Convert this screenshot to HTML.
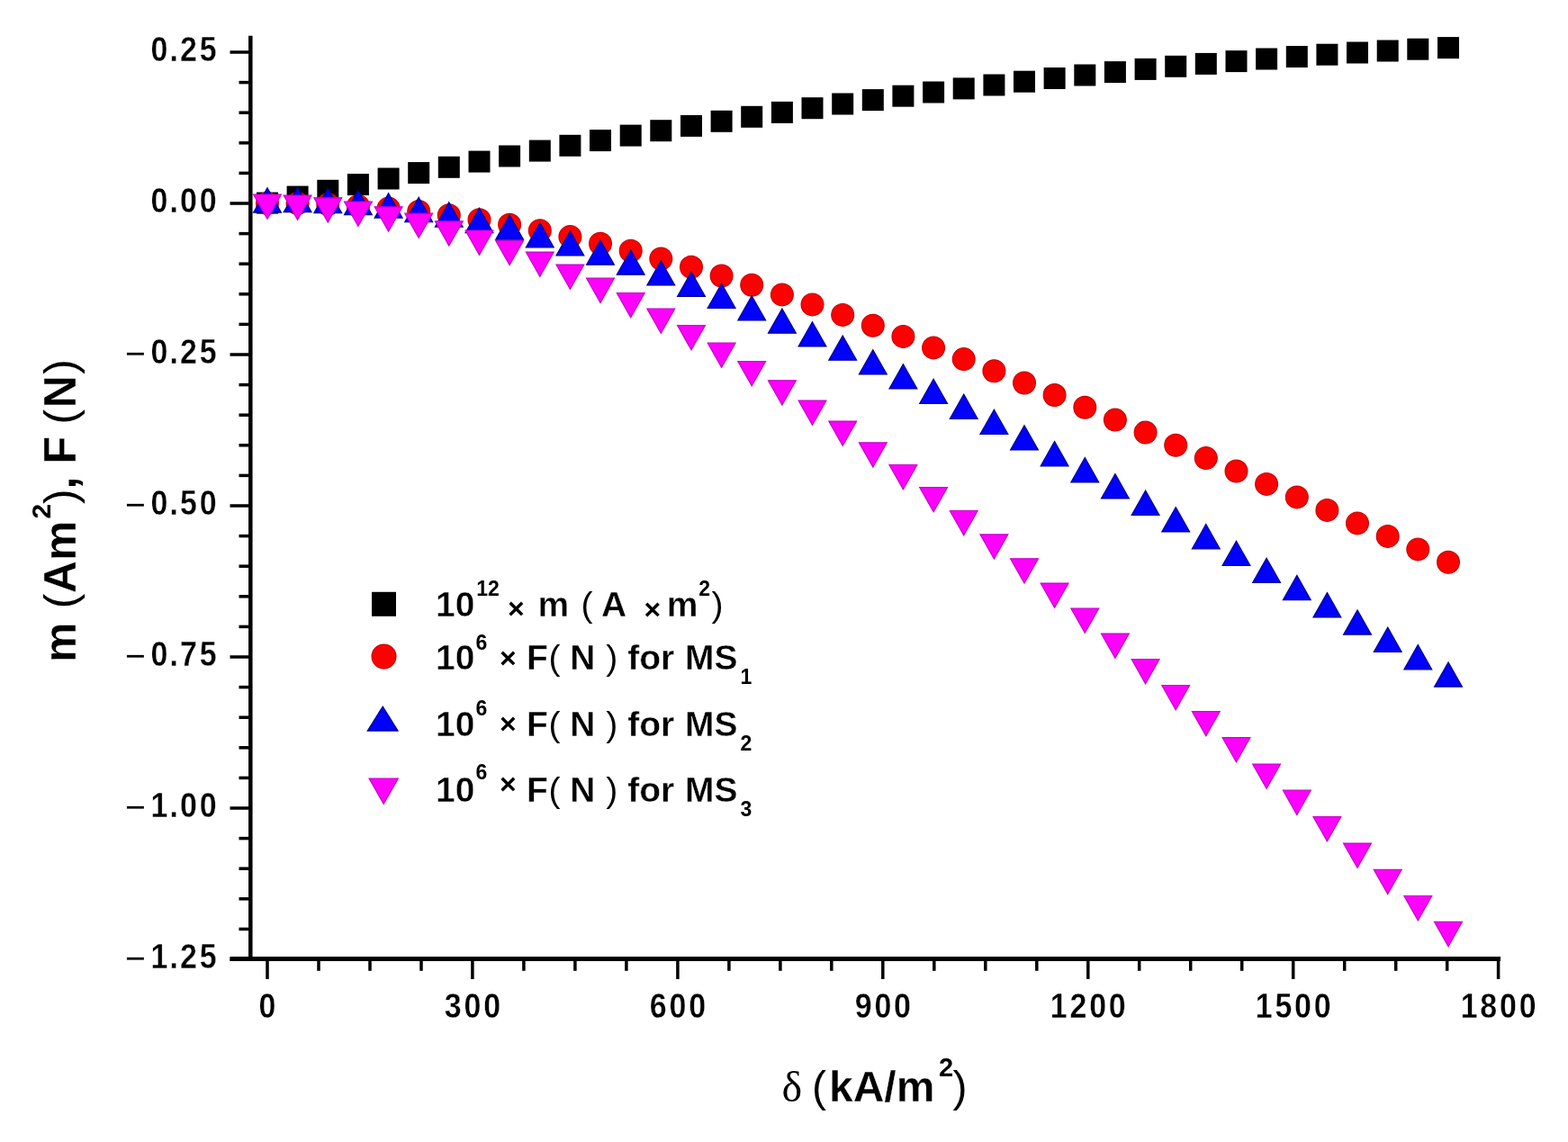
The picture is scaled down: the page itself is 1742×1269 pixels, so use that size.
<!DOCTYPE html>
<html><head><meta charset="utf-8"><style>html,body{margin:0;padding:0;background:#fff;overflow:hidden;}svg{display:block;}.t1{stroke:#fff;stroke-width:0.35px;}.t2{stroke:#fff;stroke-width:0.4px;}.t3{stroke:#fff;stroke-width:0.3px;}</style></head>
<body><svg width="1742" height="1269" viewBox="0 0 1742 1269">
<rect width="1742" height="1269" fill="#fff"/>
<g stroke="#000" fill="none">
<line x1="278.3" y1="39.8" x2="278.3" y2="1067.6" stroke-width="4.5"/>
<line x1="255.5" y1="1065.6" x2="1667" y2="1065.6" stroke-width="5"/>
</g>
<g stroke="#000" stroke-width="3.5">
<line x1="255.5" y1="58.0" x2="278.3" y2="58.0"/>
<line x1="265.5" y1="91.6" x2="278.3" y2="91.6"/>
<line x1="265.5" y1="125.2" x2="278.3" y2="125.2"/>
<line x1="265.5" y1="158.8" x2="278.3" y2="158.8"/>
<line x1="265.5" y1="192.4" x2="278.3" y2="192.4"/>
<line x1="255.5" y1="226.0" x2="278.3" y2="226.0"/>
<line x1="265.5" y1="259.6" x2="278.3" y2="259.6"/>
<line x1="265.5" y1="293.2" x2="278.3" y2="293.2"/>
<line x1="265.5" y1="326.8" x2="278.3" y2="326.8"/>
<line x1="265.5" y1="360.4" x2="278.3" y2="360.4"/>
<line x1="255.5" y1="394.0" x2="278.3" y2="394.0"/>
<line x1="265.5" y1="427.6" x2="278.3" y2="427.6"/>
<line x1="265.5" y1="461.2" x2="278.3" y2="461.2"/>
<line x1="265.5" y1="494.8" x2="278.3" y2="494.8"/>
<line x1="265.5" y1="528.4" x2="278.3" y2="528.4"/>
<line x1="255.5" y1="562.0" x2="278.3" y2="562.0"/>
<line x1="265.5" y1="595.6" x2="278.3" y2="595.6"/>
<line x1="265.5" y1="629.2" x2="278.3" y2="629.2"/>
<line x1="265.5" y1="662.8" x2="278.3" y2="662.8"/>
<line x1="265.5" y1="696.4" x2="278.3" y2="696.4"/>
<line x1="255.5" y1="730.0" x2="278.3" y2="730.0"/>
<line x1="265.5" y1="763.6" x2="278.3" y2="763.6"/>
<line x1="265.5" y1="797.2" x2="278.3" y2="797.2"/>
<line x1="265.5" y1="830.8" x2="278.3" y2="830.8"/>
<line x1="265.5" y1="864.4" x2="278.3" y2="864.4"/>
<line x1="255.5" y1="898.0" x2="278.3" y2="898.0"/>
<line x1="265.5" y1="931.6" x2="278.3" y2="931.6"/>
<line x1="265.5" y1="965.2" x2="278.3" y2="965.2"/>
<line x1="265.5" y1="998.8" x2="278.3" y2="998.8"/>
<line x1="265.5" y1="1032.4" x2="278.3" y2="1032.4"/>
<line x1="255.5" y1="1066.0" x2="278.3" y2="1066.0"/>
<line x1="297.0" y1="1065.6" x2="297.0" y2="1088"/>
<line x1="354.0" y1="1065.6" x2="354.0" y2="1078.8"/>
<line x1="411.0" y1="1065.6" x2="411.0" y2="1078.8"/>
<line x1="468.0" y1="1065.6" x2="468.0" y2="1078.8"/>
<line x1="524.9" y1="1065.6" x2="524.9" y2="1088"/>
<line x1="581.9" y1="1065.6" x2="581.9" y2="1078.8"/>
<line x1="638.9" y1="1065.6" x2="638.9" y2="1078.8"/>
<line x1="695.9" y1="1065.6" x2="695.9" y2="1078.8"/>
<line x1="752.9" y1="1065.6" x2="752.9" y2="1088"/>
<line x1="809.9" y1="1065.6" x2="809.9" y2="1078.8"/>
<line x1="866.9" y1="1065.6" x2="866.9" y2="1078.8"/>
<line x1="923.8" y1="1065.6" x2="923.8" y2="1078.8"/>
<line x1="980.8" y1="1065.6" x2="980.8" y2="1088"/>
<line x1="1037.8" y1="1065.6" x2="1037.8" y2="1078.8"/>
<line x1="1094.8" y1="1065.6" x2="1094.8" y2="1078.8"/>
<line x1="1151.8" y1="1065.6" x2="1151.8" y2="1078.8"/>
<line x1="1208.8" y1="1065.6" x2="1208.8" y2="1088"/>
<line x1="1265.7" y1="1065.6" x2="1265.7" y2="1078.8"/>
<line x1="1322.7" y1="1065.6" x2="1322.7" y2="1078.8"/>
<line x1="1379.7" y1="1065.6" x2="1379.7" y2="1078.8"/>
<line x1="1436.7" y1="1065.6" x2="1436.7" y2="1088"/>
<line x1="1493.7" y1="1065.6" x2="1493.7" y2="1078.8"/>
<line x1="1550.7" y1="1065.6" x2="1550.7" y2="1078.8"/>
<line x1="1607.7" y1="1065.6" x2="1607.7" y2="1078.8"/>
<line x1="1664.6" y1="1065.6" x2="1664.6" y2="1088"/>
</g>
<text class="t1" x="0" y="0" text-anchor="middle" transform="translate(176.95,68.0) scale(0.87,1)" font-family="Liberation Sans, Arial, sans-serif" font-weight="bold" font-size="39">0</text><text class="t1" x="0" y="0" text-anchor="middle" transform="translate(193.21,68.0) scale(0.87,1)" font-family="Liberation Sans, Arial, sans-serif" font-weight="bold" font-size="39">.</text><text class="t1" x="0" y="0" text-anchor="middle" transform="translate(209.47,68.0) scale(0.87,1)" font-family="Liberation Sans, Arial, sans-serif" font-weight="bold" font-size="39">2</text><text class="t1" x="0" y="0" text-anchor="middle" transform="translate(231.16,68.0) scale(0.87,1)" font-family="Liberation Sans, Arial, sans-serif" font-weight="bold" font-size="39">5</text>
<text class="t1" x="0" y="0" text-anchor="middle" transform="translate(176.95,236.0) scale(0.87,1)" font-family="Liberation Sans, Arial, sans-serif" font-weight="bold" font-size="39">0</text><text class="t1" x="0" y="0" text-anchor="middle" transform="translate(193.21,236.0) scale(0.87,1)" font-family="Liberation Sans, Arial, sans-serif" font-weight="bold" font-size="39">.</text><text class="t1" x="0" y="0" text-anchor="middle" transform="translate(209.47,236.0) scale(0.87,1)" font-family="Liberation Sans, Arial, sans-serif" font-weight="bold" font-size="39">0</text><text class="t1" x="0" y="0" text-anchor="middle" transform="translate(231.16,236.0) scale(0.87,1)" font-family="Liberation Sans, Arial, sans-serif" font-weight="bold" font-size="39">0</text>
<text class="t1" x="0" y="0" text-anchor="middle" transform="translate(176.95,404.0) scale(0.87,1)" font-family="Liberation Sans, Arial, sans-serif" font-weight="bold" font-size="39">0</text><text class="t1" x="0" y="0" text-anchor="middle" transform="translate(193.21,404.0) scale(0.87,1)" font-family="Liberation Sans, Arial, sans-serif" font-weight="bold" font-size="39">.</text><text class="t1" x="0" y="0" text-anchor="middle" transform="translate(209.47,404.0) scale(0.87,1)" font-family="Liberation Sans, Arial, sans-serif" font-weight="bold" font-size="39">2</text><text class="t1" x="0" y="0" text-anchor="middle" transform="translate(231.16,404.0) scale(0.87,1)" font-family="Liberation Sans, Arial, sans-serif" font-weight="bold" font-size="39">5</text>
<text x="139.0" y="406.0" font-family="Liberation Sans, Arial, sans-serif" font-weight="normal" font-size="39">−</text>
<text class="t1" x="0" y="0" text-anchor="middle" transform="translate(176.95,572.0) scale(0.87,1)" font-family="Liberation Sans, Arial, sans-serif" font-weight="bold" font-size="39">0</text><text class="t1" x="0" y="0" text-anchor="middle" transform="translate(193.21,572.0) scale(0.87,1)" font-family="Liberation Sans, Arial, sans-serif" font-weight="bold" font-size="39">.</text><text class="t1" x="0" y="0" text-anchor="middle" transform="translate(209.47,572.0) scale(0.87,1)" font-family="Liberation Sans, Arial, sans-serif" font-weight="bold" font-size="39">5</text><text class="t1" x="0" y="0" text-anchor="middle" transform="translate(231.16,572.0) scale(0.87,1)" font-family="Liberation Sans, Arial, sans-serif" font-weight="bold" font-size="39">0</text>
<text x="139.0" y="574.0" font-family="Liberation Sans, Arial, sans-serif" font-weight="normal" font-size="39">−</text>
<text class="t1" x="0" y="0" text-anchor="middle" transform="translate(176.95,740.0) scale(0.87,1)" font-family="Liberation Sans, Arial, sans-serif" font-weight="bold" font-size="39">0</text><text class="t1" x="0" y="0" text-anchor="middle" transform="translate(193.21,740.0) scale(0.87,1)" font-family="Liberation Sans, Arial, sans-serif" font-weight="bold" font-size="39">.</text><text class="t1" x="0" y="0" text-anchor="middle" transform="translate(209.47,740.0) scale(0.87,1)" font-family="Liberation Sans, Arial, sans-serif" font-weight="bold" font-size="39">7</text><text class="t1" x="0" y="0" text-anchor="middle" transform="translate(231.16,740.0) scale(0.87,1)" font-family="Liberation Sans, Arial, sans-serif" font-weight="bold" font-size="39">5</text>
<text x="139.0" y="742.0" font-family="Liberation Sans, Arial, sans-serif" font-weight="normal" font-size="39">−</text>
<text class="t1" x="0" y="0" text-anchor="middle" transform="translate(176.95,908.0) scale(0.87,1)" font-family="Liberation Sans, Arial, sans-serif" font-weight="bold" font-size="39">1</text><text class="t1" x="0" y="0" text-anchor="middle" transform="translate(193.21,908.0) scale(0.87,1)" font-family="Liberation Sans, Arial, sans-serif" font-weight="bold" font-size="39">.</text><text class="t1" x="0" y="0" text-anchor="middle" transform="translate(209.47,908.0) scale(0.87,1)" font-family="Liberation Sans, Arial, sans-serif" font-weight="bold" font-size="39">0</text><text class="t1" x="0" y="0" text-anchor="middle" transform="translate(231.16,908.0) scale(0.87,1)" font-family="Liberation Sans, Arial, sans-serif" font-weight="bold" font-size="39">0</text>
<text x="139.0" y="910.0" font-family="Liberation Sans, Arial, sans-serif" font-weight="normal" font-size="39">−</text>
<text class="t1" x="0" y="0" text-anchor="middle" transform="translate(176.95,1076.0) scale(0.87,1)" font-family="Liberation Sans, Arial, sans-serif" font-weight="bold" font-size="39">1</text><text class="t1" x="0" y="0" text-anchor="middle" transform="translate(193.21,1076.0) scale(0.87,1)" font-family="Liberation Sans, Arial, sans-serif" font-weight="bold" font-size="39">.</text><text class="t1" x="0" y="0" text-anchor="middle" transform="translate(209.47,1076.0) scale(0.87,1)" font-family="Liberation Sans, Arial, sans-serif" font-weight="bold" font-size="39">2</text><text class="t1" x="0" y="0" text-anchor="middle" transform="translate(231.16,1076.0) scale(0.87,1)" font-family="Liberation Sans, Arial, sans-serif" font-weight="bold" font-size="39">5</text>
<text x="139.0" y="1078.0" font-family="Liberation Sans, Arial, sans-serif" font-weight="normal" font-size="39">−</text>
<text class="t1" x="0" y="0" text-anchor="middle" transform="translate(297.00,1131.0) scale(0.87,1)" font-family="Liberation Sans, Arial, sans-serif" font-weight="bold" font-size="39">0</text>
<text class="t1" x="0" y="0" text-anchor="middle" transform="translate(503.25,1131.0) scale(0.87,1)" font-family="Liberation Sans, Arial, sans-serif" font-weight="bold" font-size="39">3</text><text class="t1" x="0" y="0" text-anchor="middle" transform="translate(524.94,1131.0) scale(0.87,1)" font-family="Liberation Sans, Arial, sans-serif" font-weight="bold" font-size="39">0</text><text class="t1" x="0" y="0" text-anchor="middle" transform="translate(546.63,1131.0) scale(0.87,1)" font-family="Liberation Sans, Arial, sans-serif" font-weight="bold" font-size="39">0</text>
<text class="t1" x="0" y="0" text-anchor="middle" transform="translate(731.19,1131.0) scale(0.87,1)" font-family="Liberation Sans, Arial, sans-serif" font-weight="bold" font-size="39">6</text><text class="t1" x="0" y="0" text-anchor="middle" transform="translate(752.88,1131.0) scale(0.87,1)" font-family="Liberation Sans, Arial, sans-serif" font-weight="bold" font-size="39">0</text><text class="t1" x="0" y="0" text-anchor="middle" transform="translate(774.57,1131.0) scale(0.87,1)" font-family="Liberation Sans, Arial, sans-serif" font-weight="bold" font-size="39">0</text>
<text class="t1" x="0" y="0" text-anchor="middle" transform="translate(959.13,1131.0) scale(0.87,1)" font-family="Liberation Sans, Arial, sans-serif" font-weight="bold" font-size="39">9</text><text class="t1" x="0" y="0" text-anchor="middle" transform="translate(980.82,1131.0) scale(0.87,1)" font-family="Liberation Sans, Arial, sans-serif" font-weight="bold" font-size="39">0</text><text class="t1" x="0" y="0" text-anchor="middle" transform="translate(1002.51,1131.0) scale(0.87,1)" font-family="Liberation Sans, Arial, sans-serif" font-weight="bold" font-size="39">0</text>
<text class="t1" x="0" y="0" text-anchor="middle" transform="translate(1176.23,1131.0) scale(0.87,1)" font-family="Liberation Sans, Arial, sans-serif" font-weight="bold" font-size="39">1</text><text class="t1" x="0" y="0" text-anchor="middle" transform="translate(1197.92,1131.0) scale(0.87,1)" font-family="Liberation Sans, Arial, sans-serif" font-weight="bold" font-size="39">2</text><text class="t1" x="0" y="0" text-anchor="middle" transform="translate(1219.60,1131.0) scale(0.87,1)" font-family="Liberation Sans, Arial, sans-serif" font-weight="bold" font-size="39">0</text><text class="t1" x="0" y="0" text-anchor="middle" transform="translate(1241.29,1131.0) scale(0.87,1)" font-family="Liberation Sans, Arial, sans-serif" font-weight="bold" font-size="39">0</text>
<text class="t1" x="0" y="0" text-anchor="middle" transform="translate(1404.17,1131.0) scale(0.87,1)" font-family="Liberation Sans, Arial, sans-serif" font-weight="bold" font-size="39">1</text><text class="t1" x="0" y="0" text-anchor="middle" transform="translate(1425.86,1131.0) scale(0.87,1)" font-family="Liberation Sans, Arial, sans-serif" font-weight="bold" font-size="39">5</text><text class="t1" x="0" y="0" text-anchor="middle" transform="translate(1447.54,1131.0) scale(0.87,1)" font-family="Liberation Sans, Arial, sans-serif" font-weight="bold" font-size="39">0</text><text class="t1" x="0" y="0" text-anchor="middle" transform="translate(1469.23,1131.0) scale(0.87,1)" font-family="Liberation Sans, Arial, sans-serif" font-weight="bold" font-size="39">0</text>
<text class="t1" x="0" y="0" text-anchor="middle" transform="translate(1632.11,1131.0) scale(0.87,1)" font-family="Liberation Sans, Arial, sans-serif" font-weight="bold" font-size="39">1</text><text class="t1" x="0" y="0" text-anchor="middle" transform="translate(1653.80,1131.0) scale(0.87,1)" font-family="Liberation Sans, Arial, sans-serif" font-weight="bold" font-size="39">8</text><text class="t1" x="0" y="0" text-anchor="middle" transform="translate(1675.48,1131.0) scale(0.87,1)" font-family="Liberation Sans, Arial, sans-serif" font-weight="bold" font-size="39">0</text><text class="t1" x="0" y="0" text-anchor="middle" transform="translate(1697.17,1131.0) scale(0.87,1)" font-family="Liberation Sans, Arial, sans-serif" font-weight="bold" font-size="39">0</text>
<text x="868.5" y="1223.5" font-family="Liberation Serif, Times New Roman, serif" font-weight="normal" font-size="48">δ</text>
<text x="902.0" y="1223.5" font-family="Liberation Sans, Arial, sans-serif" font-weight="normal" font-size="48">(</text>
<text class="t3" x="921.0" y="1223.5" font-family="Liberation Sans, Arial, sans-serif" font-weight="bold" font-size="48">kA/m</text>
<text x="1043.0" y="1196.0" font-family="Liberation Sans, Arial, sans-serif" font-weight="bold" font-size="29">2</text>
<text x="1058.5" y="1223.5" font-family="Liberation Sans, Arial, sans-serif" font-weight="normal" font-size="48">)</text>
<g transform="translate(83.5,0) rotate(-90)">
<text class="t3" x="-736.1" y="0" font-family="Liberation Sans, Arial, sans-serif" font-weight="bold" font-size="50">m</text>
<text x="-676.2" y="0" font-family="Liberation Sans, Arial, sans-serif" font-weight="normal" font-size="50">(</text>
<text class="t3" x="-659.2" y="0" font-family="Liberation Sans, Arial, sans-serif" font-weight="bold" font-size="50">Am</text>
<text x="-576.5" y="-27.5" font-family="Liberation Sans, Arial, sans-serif" font-weight="bold" font-size="30">2</text>
<text x="-559.9" y="0" font-family="Liberation Sans, Arial, sans-serif" font-weight="normal" font-size="50">)</text>
<text x="-543.5" y="0" font-family="Liberation Sans, Arial, sans-serif" font-weight="bold" font-size="50">,</text>
<text class="t3" x="-515.6" y="0" font-family="Liberation Sans, Arial, sans-serif" font-weight="bold" font-size="50">F</text>
<text x="-471.6" y="0" font-family="Liberation Sans, Arial, sans-serif" font-weight="normal" font-size="50">(</text>
<text class="t3" x="-453.2" y="0" font-family="Liberation Sans, Arial, sans-serif" font-weight="bold" font-size="50">N</text>
<text x="-415.8" y="0" font-family="Liberation Sans, Arial, sans-serif" font-weight="normal" font-size="50">)</text>
</g>
<g>
<rect x="285.0" y="213.6" width="24" height="24" fill="#000"/>
<rect x="318.6" y="206.6" width="24" height="24" fill="#000"/>
<rect x="352.3" y="199.8" width="24" height="24" fill="#000"/>
<rect x="385.9" y="193.1" width="24" height="24" fill="#000"/>
<rect x="419.6" y="186.5" width="24" height="24" fill="#000"/>
<rect x="453.2" y="180.1" width="24" height="24" fill="#000"/>
<rect x="486.8" y="173.8" width="24" height="24" fill="#000"/>
<rect x="520.5" y="167.6" width="24" height="24" fill="#000"/>
<rect x="554.1" y="161.5" width="24" height="24" fill="#000"/>
<rect x="587.8" y="155.6" width="24" height="24" fill="#000"/>
<rect x="621.4" y="149.8" width="24" height="24" fill="#000"/>
<rect x="655.0" y="144.1" width="24" height="24" fill="#000"/>
<rect x="688.7" y="138.6" width="24" height="24" fill="#000"/>
<rect x="722.3" y="133.2" width="24" height="24" fill="#000"/>
<rect x="756.0" y="127.9" width="24" height="24" fill="#000"/>
<rect x="789.6" y="122.8" width="24" height="24" fill="#000"/>
<rect x="823.2" y="117.8" width="24" height="24" fill="#000"/>
<rect x="856.9" y="112.9" width="24" height="24" fill="#000"/>
<rect x="890.5" y="108.2" width="24" height="24" fill="#000"/>
<rect x="924.2" y="103.5" width="24" height="24" fill="#000"/>
<rect x="957.8" y="99.1" width="24" height="24" fill="#000"/>
<rect x="991.4" y="94.7" width="24" height="24" fill="#000"/>
<rect x="1025.1" y="90.5" width="24" height="24" fill="#000"/>
<rect x="1058.7" y="86.4" width="24" height="24" fill="#000"/>
<rect x="1092.4" y="82.5" width="24" height="24" fill="#000"/>
<rect x="1126.0" y="78.7" width="24" height="24" fill="#000"/>
<rect x="1159.6" y="75.0" width="24" height="24" fill="#000"/>
<rect x="1193.3" y="71.5" width="24" height="24" fill="#000"/>
<rect x="1226.9" y="68.1" width="24" height="24" fill="#000"/>
<rect x="1260.6" y="64.9" width="24" height="24" fill="#000"/>
<rect x="1294.2" y="61.8" width="24" height="24" fill="#000"/>
<rect x="1327.8" y="58.9" width="24" height="24" fill="#000"/>
<rect x="1361.5" y="56.1" width="24" height="24" fill="#000"/>
<rect x="1395.1" y="53.5" width="24" height="24" fill="#000"/>
<rect x="1428.8" y="51.0" width="24" height="24" fill="#000"/>
<rect x="1462.4" y="48.7" width="24" height="24" fill="#000"/>
<rect x="1496.0" y="46.5" width="24" height="24" fill="#000"/>
<rect x="1529.7" y="44.5" width="24" height="24" fill="#000"/>
<rect x="1563.3" y="42.7" width="24" height="24" fill="#000"/>
<rect x="1597.0" y="41.1" width="24" height="24" fill="#000"/>
<circle cx="297.0" cy="226.0" r="12.40" fill="#f00" stroke="#c80000" stroke-width="1.2"/>
<circle cx="330.6" cy="226.1" r="12.40" fill="#f00" stroke="#c80000" stroke-width="1.2"/>
<circle cx="364.3" cy="227.1" r="12.40" fill="#f00" stroke="#c80000" stroke-width="1.2"/>
<circle cx="397.9" cy="228.9" r="12.40" fill="#f00" stroke="#c80000" stroke-width="1.2"/>
<circle cx="431.6" cy="231.6" r="12.40" fill="#f00" stroke="#c80000" stroke-width="1.2"/>
<circle cx="465.2" cy="235.0" r="12.40" fill="#f00" stroke="#c80000" stroke-width="1.2"/>
<circle cx="498.8" cy="239.3" r="12.40" fill="#f00" stroke="#c80000" stroke-width="1.2"/>
<circle cx="532.5" cy="244.2" r="12.40" fill="#f00" stroke="#c80000" stroke-width="1.2"/>
<circle cx="566.1" cy="249.8" r="12.40" fill="#f00" stroke="#c80000" stroke-width="1.2"/>
<circle cx="599.8" cy="256.2" r="12.40" fill="#f00" stroke="#c80000" stroke-width="1.2"/>
<circle cx="633.4" cy="263.1" r="12.40" fill="#f00" stroke="#c80000" stroke-width="1.2"/>
<circle cx="667.0" cy="270.7" r="12.40" fill="#f00" stroke="#c80000" stroke-width="1.2"/>
<circle cx="700.7" cy="278.8" r="12.40" fill="#f00" stroke="#c80000" stroke-width="1.2"/>
<circle cx="734.3" cy="287.5" r="12.40" fill="#f00" stroke="#c80000" stroke-width="1.2"/>
<circle cx="768.0" cy="296.8" r="12.40" fill="#f00" stroke="#c80000" stroke-width="1.2"/>
<circle cx="801.6" cy="306.5" r="12.40" fill="#f00" stroke="#c80000" stroke-width="1.2"/>
<circle cx="835.2" cy="316.7" r="12.40" fill="#f00" stroke="#c80000" stroke-width="1.2"/>
<circle cx="868.9" cy="327.4" r="12.40" fill="#f00" stroke="#c80000" stroke-width="1.2"/>
<circle cx="902.5" cy="338.4" r="12.40" fill="#f00" stroke="#c80000" stroke-width="1.2"/>
<circle cx="936.2" cy="349.9" r="12.40" fill="#f00" stroke="#c80000" stroke-width="1.2"/>
<circle cx="969.8" cy="361.7" r="12.40" fill="#f00" stroke="#c80000" stroke-width="1.2"/>
<circle cx="1003.4" cy="373.9" r="12.40" fill="#f00" stroke="#c80000" stroke-width="1.2"/>
<circle cx="1037.1" cy="386.4" r="12.40" fill="#f00" stroke="#c80000" stroke-width="1.2"/>
<circle cx="1070.7" cy="399.1" r="12.40" fill="#f00" stroke="#c80000" stroke-width="1.2"/>
<circle cx="1104.4" cy="412.2" r="12.40" fill="#f00" stroke="#c80000" stroke-width="1.2"/>
<circle cx="1138.0" cy="425.5" r="12.40" fill="#f00" stroke="#c80000" stroke-width="1.2"/>
<circle cx="1171.6" cy="439.0" r="12.40" fill="#f00" stroke="#c80000" stroke-width="1.2"/>
<circle cx="1205.3" cy="452.7" r="12.40" fill="#f00" stroke="#c80000" stroke-width="1.2"/>
<circle cx="1238.9" cy="466.6" r="12.40" fill="#f00" stroke="#c80000" stroke-width="1.2"/>
<circle cx="1272.6" cy="480.6" r="12.40" fill="#f00" stroke="#c80000" stroke-width="1.2"/>
<circle cx="1306.2" cy="494.8" r="12.40" fill="#f00" stroke="#c80000" stroke-width="1.2"/>
<circle cx="1339.8" cy="509.1" r="12.40" fill="#f00" stroke="#c80000" stroke-width="1.2"/>
<circle cx="1373.5" cy="523.5" r="12.40" fill="#f00" stroke="#c80000" stroke-width="1.2"/>
<circle cx="1407.1" cy="537.9" r="12.40" fill="#f00" stroke="#c80000" stroke-width="1.2"/>
<circle cx="1440.8" cy="552.4" r="12.40" fill="#f00" stroke="#c80000" stroke-width="1.2"/>
<circle cx="1474.4" cy="566.9" r="12.40" fill="#f00" stroke="#c80000" stroke-width="1.2"/>
<circle cx="1508.0" cy="581.4" r="12.40" fill="#f00" stroke="#c80000" stroke-width="1.2"/>
<circle cx="1541.7" cy="595.9" r="12.40" fill="#f00" stroke="#c80000" stroke-width="1.2"/>
<circle cx="1575.3" cy="610.4" r="12.40" fill="#f00" stroke="#c80000" stroke-width="1.2"/>
<circle cx="1609.0" cy="624.8" r="12.40" fill="#f00" stroke="#c80000" stroke-width="1.2"/>
<polygon points="297.0,208.8 312.4,236.1 281.6,236.1" fill="#00f" stroke="#00008c" stroke-width="1.2"/>
<polygon points="330.6,208.3 346.0,235.7 315.2,235.7" fill="#00f" stroke="#00008c" stroke-width="1.2"/>
<polygon points="364.3,209.2 379.7,236.6 348.9,236.6" fill="#00f" stroke="#00008c" stroke-width="1.2"/>
<polygon points="397.9,211.3 413.3,238.7 382.5,238.7" fill="#00f" stroke="#00008c" stroke-width="1.2"/>
<polygon points="431.6,214.8 447.0,242.1 416.2,242.1" fill="#00f" stroke="#00008c" stroke-width="1.2"/>
<polygon points="465.2,219.2 480.6,246.6 449.8,246.6" fill="#00f" stroke="#00008c" stroke-width="1.2"/>
<polygon points="498.8,224.8 514.2,252.1 483.4,252.1" fill="#00f" stroke="#00008c" stroke-width="1.2"/>
<polygon points="532.5,231.3 547.9,258.6 517.1,258.6" fill="#00f" stroke="#00008c" stroke-width="1.2"/>
<polygon points="566.1,238.9 581.5,266.2 550.7,266.2" fill="#00f" stroke="#00008c" stroke-width="1.2"/>
<polygon points="599.8,247.5 615.2,274.8 584.4,274.8" fill="#00f" stroke="#00008c" stroke-width="1.2"/>
<polygon points="633.4,256.8 648.8,284.0 618.0,284.0" fill="#00f" stroke="#00008c" stroke-width="1.2"/>
<polygon points="667.0,267.0 682.4,294.2 651.6,294.2" fill="#00f" stroke="#00008c" stroke-width="1.2"/>
<polygon points="700.7,278.0 716.1,305.2 685.3,305.2" fill="#00f" stroke="#00008c" stroke-width="1.2"/>
<polygon points="734.3,289.7 749.7,316.9 718.9,316.9" fill="#00f" stroke="#00008c" stroke-width="1.2"/>
<polygon points="768.0,302.1 783.4,329.3 752.6,329.3" fill="#00f" stroke="#00008c" stroke-width="1.2"/>
<polygon points="801.6,315.1 817.0,342.3 786.2,342.3" fill="#00f" stroke="#00008c" stroke-width="1.2"/>
<polygon points="835.2,328.8 850.6,356.0 819.8,356.0" fill="#00f" stroke="#00008c" stroke-width="1.2"/>
<polygon points="868.9,343.0 884.3,370.2 853.5,370.2" fill="#00f" stroke="#00008c" stroke-width="1.2"/>
<polygon points="902.5,357.7 917.9,384.9 887.1,384.9" fill="#00f" stroke="#00008c" stroke-width="1.2"/>
<polygon points="936.2,373.0 951.6,400.2 920.8,400.2" fill="#00f" stroke="#00008c" stroke-width="1.2"/>
<polygon points="969.8,388.7 985.2,415.9 954.4,415.9" fill="#00f" stroke="#00008c" stroke-width="1.2"/>
<polygon points="1003.4,404.8 1018.8,432.0 988.0,432.0" fill="#00f" stroke="#00008c" stroke-width="1.2"/>
<polygon points="1037.1,421.2 1052.5,448.5 1021.7,448.5" fill="#00f" stroke="#00008c" stroke-width="1.2"/>
<polygon points="1070.7,438.1 1086.1,465.3 1055.3,465.3" fill="#00f" stroke="#00008c" stroke-width="1.2"/>
<polygon points="1104.4,455.2 1119.8,482.5 1089.0,482.5" fill="#00f" stroke="#00008c" stroke-width="1.2"/>
<polygon points="1138.0,472.8 1153.4,500.0 1122.6,500.0" fill="#00f" stroke="#00008c" stroke-width="1.2"/>
<polygon points="1171.6,490.5 1187.0,517.8 1156.2,517.8" fill="#00f" stroke="#00008c" stroke-width="1.2"/>
<polygon points="1205.3,508.5 1220.7,535.8 1189.9,535.8" fill="#00f" stroke="#00008c" stroke-width="1.2"/>
<polygon points="1238.9,526.6 1254.3,553.9 1223.5,553.9" fill="#00f" stroke="#00008c" stroke-width="1.2"/>
<polygon points="1272.6,545.1 1288.0,572.4 1257.2,572.4" fill="#00f" stroke="#00008c" stroke-width="1.2"/>
<polygon points="1306.2,563.6 1321.6,590.9 1290.8,590.9" fill="#00f" stroke="#00008c" stroke-width="1.2"/>
<polygon points="1339.8,582.5 1355.2,609.8 1324.4,609.8" fill="#00f" stroke="#00008c" stroke-width="1.2"/>
<polygon points="1373.5,601.2 1388.9,628.5 1358.1,628.5" fill="#00f" stroke="#00008c" stroke-width="1.2"/>
<polygon points="1407.1,620.2 1422.5,647.5 1391.7,647.5" fill="#00f" stroke="#00008c" stroke-width="1.2"/>
<polygon points="1440.8,639.4 1456.2,666.6 1425.4,666.6" fill="#00f" stroke="#00008c" stroke-width="1.2"/>
<polygon points="1474.4,658.6 1489.8,685.9 1459.0,685.9" fill="#00f" stroke="#00008c" stroke-width="1.2"/>
<polygon points="1508.0,677.9 1523.4,705.1 1492.6,705.1" fill="#00f" stroke="#00008c" stroke-width="1.2"/>
<polygon points="1541.7,697.1 1557.1,724.4 1526.3,724.4" fill="#00f" stroke="#00008c" stroke-width="1.2"/>
<polygon points="1575.3,716.5 1590.7,743.8 1559.9,743.8" fill="#00f" stroke="#00008c" stroke-width="1.2"/>
<polygon points="1609.0,735.9 1624.4,763.1 1593.6,763.1" fill="#00f" stroke="#00008c" stroke-width="1.2"/>
<polygon points="281.6,216.0 312.4,216.0 297.0,243.3" fill="#f0f" stroke="#c800c8" stroke-width="1.2"/>
<polygon points="315.2,217.0 346.0,217.0 330.6,244.3" fill="#f0f" stroke="#c800c8" stroke-width="1.2"/>
<polygon points="348.9,219.8 379.7,219.8 364.3,247.1" fill="#f0f" stroke="#c800c8" stroke-width="1.2"/>
<polygon points="382.5,224.0 413.3,224.0 397.9,251.3" fill="#f0f" stroke="#c800c8" stroke-width="1.2"/>
<polygon points="416.2,229.8 447.0,229.8 431.6,257.1" fill="#f0f" stroke="#c800c8" stroke-width="1.2"/>
<polygon points="449.8,237.2 480.6,237.2 465.2,264.4" fill="#f0f" stroke="#c800c8" stroke-width="1.2"/>
<polygon points="483.4,245.8 514.2,245.8 498.8,273.1" fill="#f0f" stroke="#c800c8" stroke-width="1.2"/>
<polygon points="517.1,256.0 547.9,256.0 532.5,283.2" fill="#f0f" stroke="#c800c8" stroke-width="1.2"/>
<polygon points="550.7,267.4 581.5,267.4 566.1,294.6" fill="#f0f" stroke="#c800c8" stroke-width="1.2"/>
<polygon points="584.4,280.1 615.2,280.1 599.8,307.3" fill="#f0f" stroke="#c800c8" stroke-width="1.2"/>
<polygon points="618.0,294.1 648.8,294.1 633.4,321.3" fill="#f0f" stroke="#c800c8" stroke-width="1.2"/>
<polygon points="651.6,309.2 682.4,309.2 667.0,336.5" fill="#f0f" stroke="#c800c8" stroke-width="1.2"/>
<polygon points="685.3,325.6 716.1,325.6 700.7,352.8" fill="#f0f" stroke="#c800c8" stroke-width="1.2"/>
<polygon points="718.9,343.0 749.7,343.0 734.3,370.2" fill="#f0f" stroke="#c800c8" stroke-width="1.2"/>
<polygon points="752.6,361.5 783.4,361.5 768.0,388.8" fill="#f0f" stroke="#c800c8" stroke-width="1.2"/>
<polygon points="786.2,381.0 817.0,381.0 801.6,408.2" fill="#f0f" stroke="#c800c8" stroke-width="1.2"/>
<polygon points="819.8,401.5 850.6,401.5 835.2,428.8" fill="#f0f" stroke="#c800c8" stroke-width="1.2"/>
<polygon points="853.5,422.8 884.3,422.8 868.9,450.0" fill="#f0f" stroke="#c800c8" stroke-width="1.2"/>
<polygon points="887.1,445.1 917.9,445.1 902.5,472.3" fill="#f0f" stroke="#c800c8" stroke-width="1.2"/>
<polygon points="920.8,468.1 951.6,468.1 936.2,495.3" fill="#f0f" stroke="#c800c8" stroke-width="1.2"/>
<polygon points="954.4,491.9 985.2,491.9 969.8,519.1" fill="#f0f" stroke="#c800c8" stroke-width="1.2"/>
<polygon points="988.0,516.5 1018.8,516.5 1003.4,543.8" fill="#f0f" stroke="#c800c8" stroke-width="1.2"/>
<polygon points="1021.7,541.6 1052.5,541.6 1037.1,568.9" fill="#f0f" stroke="#c800c8" stroke-width="1.2"/>
<polygon points="1055.3,567.5 1086.1,567.5 1070.7,594.8" fill="#f0f" stroke="#c800c8" stroke-width="1.2"/>
<polygon points="1089.0,593.9 1119.8,593.9 1104.4,621.1" fill="#f0f" stroke="#c800c8" stroke-width="1.2"/>
<polygon points="1122.6,620.8 1153.4,620.8 1138.0,648.0" fill="#f0f" stroke="#c800c8" stroke-width="1.2"/>
<polygon points="1156.2,648.1 1187.0,648.1 1171.6,675.4" fill="#f0f" stroke="#c800c8" stroke-width="1.2"/>
<polygon points="1189.9,676.0 1220.7,676.0 1205.3,703.2" fill="#f0f" stroke="#c800c8" stroke-width="1.2"/>
<polygon points="1223.5,704.1 1254.3,704.1 1238.9,731.4" fill="#f0f" stroke="#c800c8" stroke-width="1.2"/>
<polygon points="1257.2,732.6 1288.0,732.6 1272.6,759.9" fill="#f0f" stroke="#c800c8" stroke-width="1.2"/>
<polygon points="1290.8,761.5 1321.6,761.5 1306.2,788.8" fill="#f0f" stroke="#c800c8" stroke-width="1.2"/>
<polygon points="1324.4,790.5 1355.2,790.5 1339.8,817.8" fill="#f0f" stroke="#c800c8" stroke-width="1.2"/>
<polygon points="1358.1,819.6 1388.9,819.6 1373.5,846.9" fill="#f0f" stroke="#c800c8" stroke-width="1.2"/>
<polygon points="1391.7,849.0 1422.5,849.0 1407.1,876.2" fill="#f0f" stroke="#c800c8" stroke-width="1.2"/>
<polygon points="1425.4,878.2 1456.2,878.2 1440.8,905.5" fill="#f0f" stroke="#c800c8" stroke-width="1.2"/>
<polygon points="1459.0,907.6 1489.8,907.6 1474.4,934.9" fill="#f0f" stroke="#c800c8" stroke-width="1.2"/>
<polygon points="1492.6,937.1 1523.4,937.1 1508.0,964.4" fill="#f0f" stroke="#c800c8" stroke-width="1.2"/>
<polygon points="1526.3,966.4 1557.1,966.4 1541.7,993.6" fill="#f0f" stroke="#c800c8" stroke-width="1.2"/>
<polygon points="1559.9,995.5 1590.7,995.5 1575.3,1022.8" fill="#f0f" stroke="#c800c8" stroke-width="1.2"/>
<polygon points="1593.6,1024.4 1624.4,1024.4 1609.0,1051.8" fill="#f0f" stroke="#c800c8" stroke-width="1.2"/>
</g>
<rect x="413.0" y="657.8" width="27" height="27" fill="#000"/>
<circle cx="426.5" cy="729.5" r="13.40" fill="#f00" stroke="#c80000" stroke-width="1.2"/>
<polygon points="425.2,785.1 442.1,812.1 408.3,812.1" fill="#00f" stroke="#00008c" stroke-width="1.2"/>
<polygon points="410.1,865.0 442.3,865.0 426.2,893.4" fill="#f0f" stroke="#c800c8" stroke-width="1.2"/>
<text class="t2" x="484.1" y="685.2" font-family="Liberation Sans, Arial, sans-serif" font-weight="bold" font-size="39">10</text>
<text x="529.2" y="662.0" font-family="Liberation Sans, Arial, sans-serif" font-weight="bold" font-size="23">12</text>
<text x="564.1" y="686.5" font-family="Liberation Sans, Arial, sans-serif" font-weight="bold" font-size="32">×</text>
<text class="t2" x="597.4" y="685.2" font-family="Liberation Sans, Arial, sans-serif" font-weight="bold" font-size="39">m</text>
<text x="645.5" y="685.2" font-family="Liberation Sans, Arial, sans-serif" font-weight="normal" font-size="39">(</text>
<text class="t2" x="668.1" y="685.2" font-family="Liberation Sans, Arial, sans-serif" font-weight="bold" font-size="39">A</text>
<text x="715.6" y="688.2" font-family="Liberation Sans, Arial, sans-serif" font-weight="bold" font-size="32">×</text>
<text class="t2" x="740.7" y="685.2" font-family="Liberation Sans, Arial, sans-serif" font-weight="bold" font-size="39">m</text>
<text x="776.3" y="662.4" font-family="Liberation Sans, Arial, sans-serif" font-weight="bold" font-size="23">2</text>
<text x="790.5" y="685.2" font-family="Liberation Sans, Arial, sans-serif" font-weight="normal" font-size="39">)</text>
<text class="t2" x="484.1" y="744.4" font-family="Liberation Sans, Arial, sans-serif" font-weight="bold" font-size="39">10</text>
<text x="528.5" y="722.0" font-family="Liberation Sans, Arial, sans-serif" font-weight="bold" font-size="23">6</text>
<text x="554.9" y="742.1" font-family="Liberation Sans, Arial, sans-serif" font-weight="bold" font-size="32">×</text>
<text class="t2" x="585.0" y="744.4" font-family="Liberation Sans, Arial, sans-serif" font-weight="bold" font-size="39">F</text>
<text x="609.6" y="744.4" font-family="Liberation Sans, Arial, sans-serif" font-weight="normal" font-size="39">(</text>
<text class="t2" x="633.3" y="744.4" font-family="Liberation Sans, Arial, sans-serif" font-weight="bold" font-size="39">N</text>
<text x="673.3" y="744.4" font-family="Liberation Sans, Arial, sans-serif" font-weight="normal" font-size="39">)</text>
<text class="t2" x="697.2" y="744.4" font-family="Liberation Sans, Arial, sans-serif" font-weight="bold" font-size="39">for</text>
<text class="t2" x="760.9" y="744.4" font-family="Liberation Sans, Arial, sans-serif" font-weight="bold" font-size="39">MS</text>
<text x="822.5" y="760.4" font-family="Liberation Sans, Arial, sans-serif" font-weight="bold" font-size="23">1</text>
<text class="t2" x="484.1" y="817.5" font-family="Liberation Sans, Arial, sans-serif" font-weight="bold" font-size="39">10</text>
<text x="528.5" y="795.0" font-family="Liberation Sans, Arial, sans-serif" font-weight="bold" font-size="23">6</text>
<text x="554.9" y="815.0" font-family="Liberation Sans, Arial, sans-serif" font-weight="bold" font-size="32">×</text>
<text class="t2" x="585.0" y="817.5" font-family="Liberation Sans, Arial, sans-serif" font-weight="bold" font-size="39">F</text>
<text x="609.6" y="817.5" font-family="Liberation Sans, Arial, sans-serif" font-weight="normal" font-size="39">(</text>
<text class="t2" x="633.3" y="817.5" font-family="Liberation Sans, Arial, sans-serif" font-weight="bold" font-size="39">N</text>
<text x="673.3" y="817.5" font-family="Liberation Sans, Arial, sans-serif" font-weight="normal" font-size="39">)</text>
<text class="t2" x="697.2" y="817.5" font-family="Liberation Sans, Arial, sans-serif" font-weight="bold" font-size="39">for</text>
<text class="t2" x="760.9" y="817.5" font-family="Liberation Sans, Arial, sans-serif" font-weight="bold" font-size="39">MS</text>
<text x="822.5" y="833.5" font-family="Liberation Sans, Arial, sans-serif" font-weight="bold" font-size="23">2</text>
<text class="t2" x="484.1" y="891.0" font-family="Liberation Sans, Arial, sans-serif" font-weight="bold" font-size="39">10</text>
<text x="528.5" y="866.0" font-family="Liberation Sans, Arial, sans-serif" font-weight="bold" font-size="23">6</text>
<text x="554.9" y="882.1" font-family="Liberation Sans, Arial, sans-serif" font-weight="bold" font-size="32">×</text>
<text class="t2" x="585.0" y="891.0" font-family="Liberation Sans, Arial, sans-serif" font-weight="bold" font-size="39">F</text>
<text x="609.6" y="891.0" font-family="Liberation Sans, Arial, sans-serif" font-weight="normal" font-size="39">(</text>
<text class="t2" x="633.3" y="891.0" font-family="Liberation Sans, Arial, sans-serif" font-weight="bold" font-size="39">N</text>
<text x="673.3" y="891.0" font-family="Liberation Sans, Arial, sans-serif" font-weight="normal" font-size="39">)</text>
<text class="t2" x="697.2" y="891.0" font-family="Liberation Sans, Arial, sans-serif" font-weight="bold" font-size="39">for</text>
<text class="t2" x="760.9" y="891.0" font-family="Liberation Sans, Arial, sans-serif" font-weight="bold" font-size="39">MS</text>
<text x="822.5" y="907.0" font-family="Liberation Sans, Arial, sans-serif" font-weight="bold" font-size="23">3</text>
</svg></body></html>
